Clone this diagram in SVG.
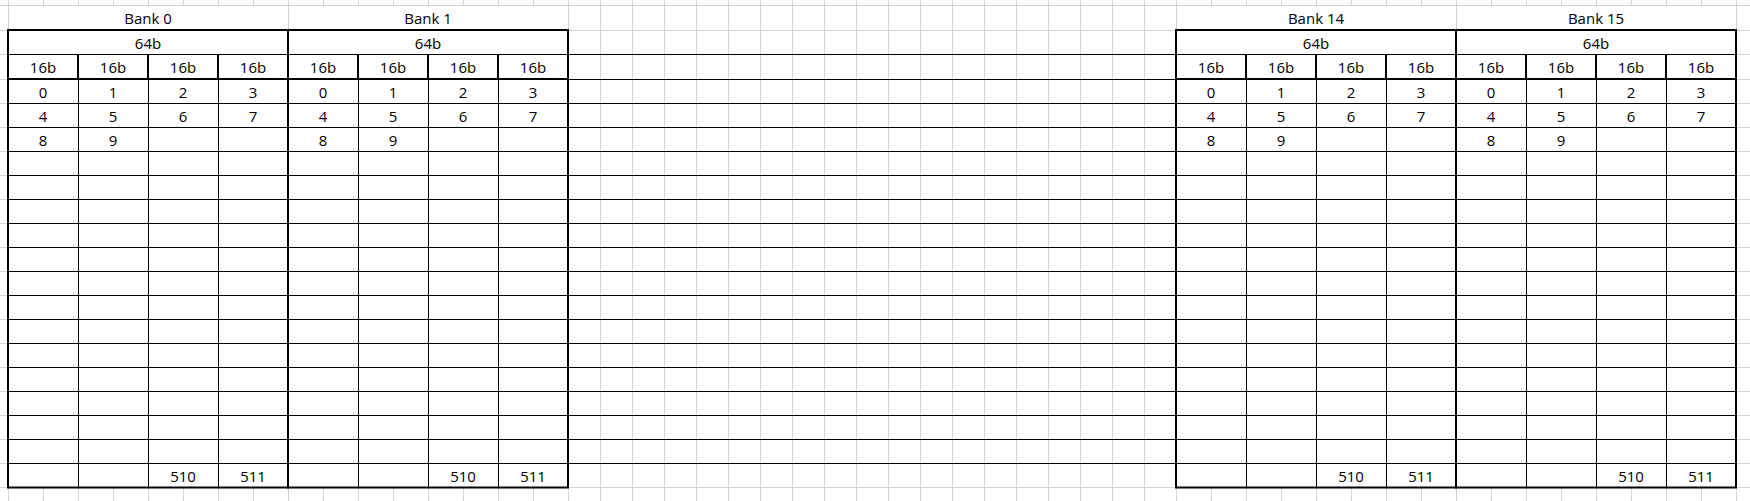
<svg xmlns="http://www.w3.org/2000/svg" width="1750" height="501" viewBox="0 0 1750 501">
<style>
.g{stroke:#d4d4d4;stroke-width:1;fill:none}
.t{stroke:#000;stroke-width:1;fill:none}
.k{stroke:#000;stroke-width:2;fill:none}
text{font-family:"Open Sans","Noto Sans",sans-serif;font-size:15px;fill:#000;text-anchor:middle}
</style>
<rect width="1750" height="501" fill="#fff"/>
<g id="gridlines" class="g">
<path d="M0 5.5H1750M0 30.5H1750M0 54.5H1750M0 79.5H1750M0 103.5H1750M0 127.5H1750M0 151.5H1750M0 175.5H1750M0 199.5H1750M0 223.5H1750M0 247.5H1750M0 271.5H1750M0 295.5H1750M0 319.5H1750M0 343.5H1750M0 367.5H1750M0 391.5H1750M0 415.5H1750M0 439.5H1750M0 463.5H1750M0 487.5H1750"/>
<path d="M8.5 0V501M288.5 0V501M568.5 0V501M1176.5 0V501M1456.5 0V501M1736.5 0V501"/>
<path d="M600.5 0V501M632.5 0V501M664.5 0V501M696.5 0V501M728.5 0V501M760.5 0V501M792.5 0V501M824.5 0V501M856.5 0V501M888.5 0V501M920.5 0V501M952.5 0V501M984.5 0V501M1016.5 0V501M1048.5 0V501M1080.5 0V501M1112.5 0V501M1144.5 0V501"/>
<path d="M43.5 0V5.5M78.5 0V5.5M113.5 0V5.5M148.5 0V5.5M183.5 0V5.5M218.5 0V5.5M253.5 0V5.5M323.5 0V5.5M358.5 0V5.5M393.5 0V5.5M428.5 0V5.5M463.5 0V5.5M498.5 0V5.5M533.5 0V5.5M1211.5 0V5.5M1246.5 0V5.5M1281.5 0V5.5M1316.5 0V5.5M1351.5 0V5.5M1386.5 0V5.5M1421.5 0V5.5M1491.5 0V5.5M1526.5 0V5.5M1561.5 0V5.5M1596.5 0V5.5M1631.5 0V5.5M1666.5 0V5.5M1701.5 0V5.5"/>
<path d="M43.5 488V501M78.5 488V501M113.5 488V501M148.5 488V501M183.5 488V501M218.5 488V501M253.5 488V501M323.5 488V501M358.5 488V501M393.5 488V501M428.5 488V501M463.5 488V501M498.5 488V501M533.5 488V501M1211.5 488V501M1246.5 488V501M1281.5 488V501M1316.5 488V501M1351.5 488V501M1386.5 488V501M1421.5 488V501M1491.5 488V501M1526.5 488V501M1561.5 488V501M1596.5 488V501M1631.5 488V501M1666.5 488V501M1701.5 488V501"/>
</g>
<g id="gap-rows" class="t">
<path d="M568 54.5H1176M568 79.5H1176M568 103.5H1176M568 127.5H1176M568 151.5H1176M568 175.5H1176M568 199.5H1176M568 223.5H1176M568 247.5H1176M568 271.5H1176M568 295.5H1176M568 319.5H1176M568 343.5H1176M568 367.5H1176M568 391.5H1176M568 415.5H1176M568 439.5H1176M568 463.5H1176"/>
</g>
<defs>
<g id="bankgrid">
<path class="t" d="M0 24.5H280M0 73.5H280M0 97.5H280M0 121.5H280M0 145.5H280M0 169.5H280M0 193.5H280M0 217.5H280M0 241.5H280M0 265.5H280M0 289.5H280M0 313.5H280M0 337.5H280M0 361.5H280M0 385.5H280M0 409.5H280M0 433.5H280"/>
<path class="t" d="M70.5 49V457.5M140.5 49V457.5M210.5 49V457.5"/>
<path class="k" d="M70 24.5V49M140 24.5V49M210 24.5V49M0 49H280"/>
<rect class="k" x="0" y="0" width="280" height="457.5"/>
<g>
<text x="140" y="18.5">64b</text>
<text x="35" y="43">16b</text><text x="105" y="43">16b</text><text x="175" y="43">16b</text><text x="245" y="43">16b</text>
<text x="35" y="67.7">0</text><text x="105" y="67.7">1</text><text x="175" y="67.7">2</text><text x="245" y="67.7">3</text>
<text x="35" y="91.7">4</text><text x="105" y="91.7">5</text><text x="175" y="91.7">6</text><text x="245" y="91.7">7</text>
<text x="35" y="115.7">8</text><text x="105" y="115.7">9</text>
<text x="175" y="451.7">510</text><text x="245" y="451.7">511</text>
</g>
</g>
</defs>
<g id="bank0">
<text x="148" y="24">Bank 0</text>
<use href="#bankgrid" x="8" y="30"/>
</g>
<g id="bank1">
<text x="428" y="24">Bank 1</text>
<use href="#bankgrid" x="288" y="30"/>
</g>
<g id="bank14">
<text x="1316" y="24">Bank 14</text>
<use href="#bankgrid" x="1176" y="30"/>
</g>
<g id="bank15">
<text x="1596" y="24">Bank 15</text>
<use href="#bankgrid" x="1456" y="30"/>
</g>
<g id="connectors"></g>
</svg>
